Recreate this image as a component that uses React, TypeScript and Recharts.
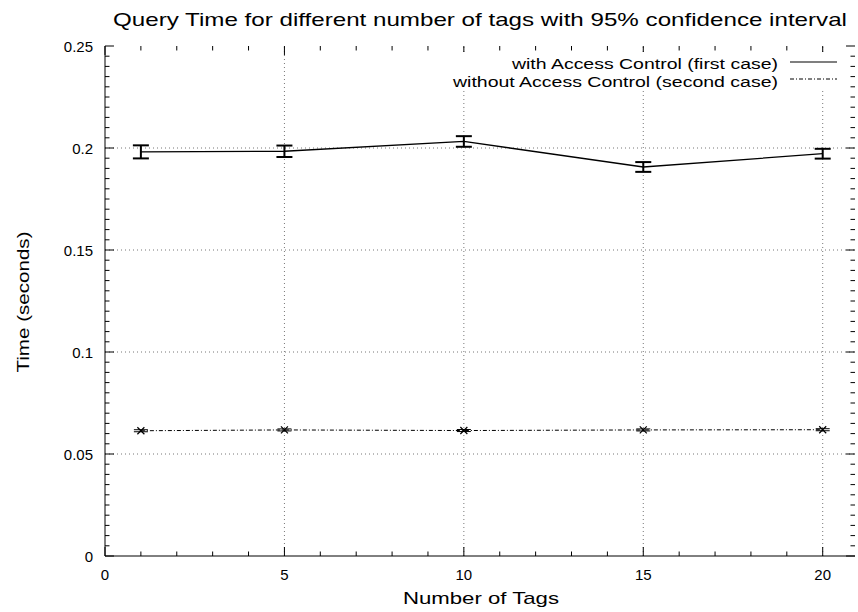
import React from 'react';
import { LineChart, Line, XAxis, YAxis, ErrorBar, ReferenceLine, Legend } from 'recharts';

// number of tags on the x axis
const tags = [1, 5, 10, 15, 20];
// query time (seconds) with its 95% confidence half-width
const withAccess = [0.1981, 0.1984, 0.2032, 0.1907, 0.1972];
const withAccessErr = [0.0032, 0.0028, 0.0026, 0.0024, 0.0024];
const withoutAccess = [0.0614, 0.0618, 0.0615, 0.0618, 0.0619];
const withoutAccessErr = [0.0005, 0.0005, 0.0005, 0.0005, 0.0005];

const xMajor = [0, 5, 10, 15, 20];
const xMinor = [1, 2, 3, 4, 6, 7, 8, 9, 11, 12, 13, 14, 16, 17, 18, 19];
const yMajor = [0, 0.05, 0.1, 0.15, 0.2, 0.25];
const yMinor = Array.from({ length: 51 }, (_, i) => Number((i * 0.005).toFixed(3))).filter(
  (v) => !yMajor.some((m) => Math.abs(m - v) < 1e-9)
);
const xGrid = [5, 10, 15, 20];
const yGrid = [0.05, 0.1, 0.15, 0.2];

const data = tags.map((t, i) => ({
  x: t,
  withAC: withAccess[i],
  withErr: withAccessErr[i],
  withoutAC: withoutAccess[i],
  withoutErr: withoutAccessErr[i],
}));

const FONT = '"Liberation Sans", Arial, Helvetica, sans-serif';
const X_MAX = 20.9;
const Y_MAX = 0.25;
const X_DOMAIN = [0, X_MAX];
const Y_DOMAIN = [0, Y_MAX];
// inward tick lengths, in data units (about 9px major, 4.5px minor)
const X_TICK = { major: 0.0044, minor: 0.0022 };
const Y_TICK = { major: 0.25, minor: 0.125 };

const BottomLabel = (props: any) => {
  const { x, y, payload } = props;
  return (
    <text x={x} y={y + 24} textAnchor="middle" fontSize={15} fontFamily={FONT} fill="#000">
      {payload.value}
    </text>
  );
};

const LeftLabel = (props: any) => {
  const { x, y, payload } = props;
  return (
    <text x={x - 12} y={y + 5.5} textAnchor="end" fontSize={15} fontFamily={FONT} fill="#000">
      {String(Number(payload.value.toFixed(3)))}
    </text>
  );
};

const Cross = (props: any) => {
  const { cx, cy } = props;
  if (cx == null || cy == null) return null;
  const s = 3.5;
  return (
    <path
      d={`M${cx - s},${cy - s}L${cx + s},${cy + s}M${cx - s},${cy + s}L${cx + s},${cy - s}`}
      stroke="#000"
      strokeWidth={1.2}
      fill="none"
    />
  );
};

const XTitle = (props: any) => {
  const vb = props.viewBox || { x: 105, y: 556, width: 750, height: 56 };
  return (
    <text
      x={vb.x + vb.width / 2 + 1}
      y={vb.y + 48}
      textAnchor="middle"
      fontSize={17}
      fontFamily={FONT}
      fill="#000"
      textLength={156}
      lengthAdjust="spacingAndGlyphs"
    >
      Number of Tags
    </text>
  );
};

const YTitle = (props: any) => {
  const vb = props.viewBox || { x: 0, y: 46, width: 105, height: 510 };
  const cx = 29;
  const cy = vb.y + vb.height / 2 + 1;
  return (
    <text
      x={cx}
      y={cy}
      transform={`rotate(-90 ${cx} ${cy})`}
      textAnchor="middle"
      fontSize={17}
      fontFamily={FONT}
      fill="#000"
      textLength={141}
      lengthAdjust="spacingAndGlyphs"
    >
      Time (seconds)
    </text>
  );
};

const KeyBox = () => (
  <svg width={397} height={38} style={{ display: 'block' }}>
    <rect x={0} y={0} width={397} height={38} fill="#fff" />
    <text x={330} y={17} textAnchor="end" fontSize={15.5} fontFamily={FONT} fill="#000" textLength={266} lengthAdjust="spacingAndGlyphs">
      with Access Control (first case)
    </text>
    <line x1={342} x2={389} y1={10} y2={10} stroke="#000" strokeWidth={1.2} />
    <text x={330} y={34.5} textAnchor="end" fontSize={15.5} fontFamily={FONT} fill="#000" textLength={325} lengthAdjust="spacingAndGlyphs">
      without Access Control (second case)
    </text>
    <line x1={342} x2={389} y1={27} y2={27} stroke="#000" strokeDasharray="4 2 1 2" />
  </svg>
);

// inward tick marks on all four borders, gnuplot style
const tickMarks = () => {
  const out: React.ReactNode[] = [];
  const add = (key: string, a: { x: number; y: number }, b: { x: number; y: number }) =>
    out.push(
      <ReferenceLine key={key} xAxisId="b" yAxisId="l" segment={[a, b]} stroke="#000" strokeWidth={1} ifOverflow="visible" />
    );
  [...xMajor.map((v) => [v, X_TICK.major]), ...xMinor.map((v) => [v, X_TICK.minor])].forEach(([v, len]) => {
    add(`tb${v}`, { x: v, y: 0 }, { x: v, y: len });
    add(`tt${v}`, { x: v, y: Y_MAX }, { x: v, y: Y_MAX - len });
  });
  [...yMajor.map((v) => [v, Y_TICK.major]), ...yMinor.map((v) => [v, Y_TICK.minor])].forEach(([v, len]) => {
    add(`tl${v}`, { x: 0, y: v }, { x: len, y: v });
    add(`tr${v}`, { x: X_MAX, y: v }, { x: X_MAX - len, y: v });
  });
  return out;
};

export default function App() {
  return (
    <div style={{ position: 'absolute', left: 0, top: 0, width: 858, height: 612, background: '#fff' }}>
      <LineChart width={858} height={612} data={data} margin={{ top: 46, right: 3, bottom: 0, left: 0 }}>
        <XAxis
          xAxisId="top"
          orientation="top"
          type="number"
          domain={X_DOMAIN}
          height={0}
          tick={false}
          tickLine={false}
          axisLine={{ stroke: '#000' }}
          allowDataOverflow
        />
        <XAxis
          xAxisId="b"
          dataKey="x"
          type="number"
          domain={X_DOMAIN}
          ticks={xMajor}
          interval={0}
          height={56}
          tickSize={0}
          tickMargin={0}
          tickLine={false}
          tick={<BottomLabel />}
          axisLine={{ stroke: '#000' }}
          allowDataOverflow
          label={<XTitle />}
        />
        <YAxis
          yAxisId="l"
          type="number"
          domain={Y_DOMAIN}
          ticks={yMajor}
          interval={0}
          width={105}
          tickSize={0}
          tickMargin={0}
          tickLine={false}
          tick={<LeftLabel />}
          axisLine={{ stroke: '#000' }}
          allowDataOverflow
          label={<YTitle />}
        />
        <YAxis
          yAxisId="r"
          orientation="right"
          type="number"
          domain={Y_DOMAIN}
          width={0}
          tick={false}
          tickLine={false}
          axisLine={{ stroke: '#000' }}
          allowDataOverflow
        />
        {xGrid.map((v) => (
          <ReferenceLine key={`gx${v}`} xAxisId="b" yAxisId="l" x={v} stroke="#777" strokeDasharray="1 3" />
        ))}
        {yGrid.map((v) => (
          <ReferenceLine key={`gy${v}`} xAxisId="b" yAxisId="l" y={v} stroke="#777" strokeDasharray="1 3" />
        ))}
        {tickMarks()}
        <Line
          xAxisId="b"
          yAxisId="l"
          type="linear"
          dataKey="withAC"
          name="with Access Control (first case)"
          stroke="#000"
          strokeWidth={1.3}
          dot={false}
          isAnimationActive={false}
        >
          <ErrorBar dataKey="withErr" direction="y" width={8} strokeWidth={2} stroke="#000" isAnimationActive={false} />
        </Line>
        <Line
          xAxisId="b"
          yAxisId="l"
          type="linear"
          dataKey="withoutAC"
          name="without Access Control (second case)"
          stroke="#000"
          strokeWidth={1}
          strokeDasharray="4 2 1 2"
          dot={<Cross />}
          isAnimationActive={false}
        >
          <ErrorBar dataKey="withoutErr" direction="y" width={7} strokeWidth={1} stroke="#000" isAnimationActive={false} />
        </Line>
        <Legend
          layout="horizontal"
          verticalAlign="middle"
          align="center"
          content={<KeyBox />}
          wrapperStyle={{ position: 'absolute', left: 448, top: 52, width: 397, height: 38 }}
        />
      </LineChart>
      <svg
        width={858}
        height={40}
        style={{ position: 'absolute', left: 0, top: 0, pointerEvents: 'none' }}
      >
        <text
          x={480}
          y={26}
          textAnchor="middle"
          fontSize={19}
          fontFamily={FONT}
          fill="#000"
          textLength={734}
          lengthAdjust="spacingAndGlyphs"
        >
          Query Time for different number of tags with 95% confidence interval
        </text>
      </svg>
    </div>
  );
}
